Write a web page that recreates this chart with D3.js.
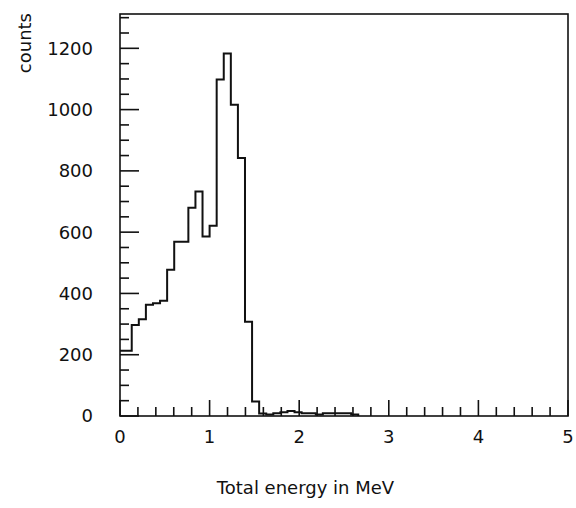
<!DOCTYPE html>
<html>
<head>
<meta charset="utf-8">
<script src="https://cdn.jsdelivr.net/npm/d3@7"></script>
<style>
  body { margin: 0; background: #fff; }
  text { font-family: "DejaVu Sans", sans-serif; fill: #111; }
</style>
</head>
<body>
<div id="vis"></div>
<script>
// histogram data
let firstEdge = -0.027   // lower edge of first bin (MeV)
let binWidth = 0.079
let counts = [213, 213, 297, 316, 363, 368, 376, 477, 569, 569,
              680, 733, 586, 621, 1098, 1183, 1016, 842, 308, 47,
              8, 5, 9, 12, 16, 12, 9, 9, 5, 9, 9, 9, 9, 5]

let xMajor = [0, 1, 2, 3, 4, 5]
let yMajor = [0, 200, 400, 600, 800, 1000, 1200]
let xDomain = [0, 5]
let yDomain = [0, 1312]

let svgWidth = 576
let svgHeight = 508

let margin = {left: 120, right: 8, top: 14, bottom: 92}
let width = svgWidth - margin.left - margin.right
let height = svgHeight - margin.top - margin.bottom

let svg = d3.select('#vis')
    .append('svg')
    .attr('width', svgWidth)
    .attr('height', svgHeight)
    .append('g')
    .attr('transform', `translate(${margin.left},${margin.top})`)

// scales
let xScale = d3.scaleLinear().domain(xDomain).range([0, width])
let yScale = d3.scaleLinear().domain(yDomain).range([height, 0])

svg.append('clipPath')
    .attr('id', 'plot-clip')
    .append('rect')
    .attr('width', width)
    .attr('height', height)

// step points for the histogram outline
let steps = [{x: firstEdge, y: 0}]
counts.forEach((c, i) => {
    steps.push({x: firstEdge + i * binWidth, y: c})
})
steps.push({x: firstEdge + counts.length * binWidth, y: 0})

let line = d3.line()
    .x(d => xScale(d.x))
    .y(d => yScale(d.y))
    .curve(d3.curveStepAfter)

svg.append('path')
    .datum(steps)
    .attr('clip-path', 'url(#plot-clip)')
    .attr('fill', 'none')
    .attr('stroke', '#111')
    .attr('stroke-width', 2)
    .attr('d', line)

// frame
svg.append('rect')
    .attr('width', width)
    .attr('height', height)
    .attr('fill', 'none')
    .attr('stroke', '#111')
    .attr('stroke-width', 1.6)

// y ticks (inside, pointing right)
let yMinor = d3.range(0, 1301, 50)
svg.selectAll('.ytick')
    .data(yMinor)
    .join('line')
    .attr('class', 'ytick')
    .attr('x1', 0)
    .attr('x2', d => d % 200 === 0 ? 19 : 9)
    .attr('y1', d => yScale(d))
    .attr('y2', d => yScale(d))
    .attr('stroke', '#111')
    .attr('stroke-width', 1.6)

svg.selectAll('.ylab')
    .data(yMajor)
    .join('text')
    .attr('class', 'ylab')
    .attr('x', -27)
    .attr('y', d => yScale(d))
    .attr('dy', '0.36em')
    .attr('text-anchor', 'end')
    .attr('font-size', 18)
    .text(d => d)

// x ticks (inside, pointing up)
let xMinor = d3.range(0, 26).map(i => i / 5)
svg.selectAll('.xtick')
    .data(xMinor)
    .join('line')
    .attr('class', 'xtick')
    .attr('x1', d => xScale(d))
    .attr('x2', d => xScale(d))
    .attr('y1', height)
    .attr('y2', (d, i) => height - (i % 5 === 0 ? 16 : 9))
    .attr('stroke', '#111')
    .attr('stroke-width', 1.6)

svg.selectAll('.xlab')
    .data(xMajor)
    .join('text')
    .attr('class', 'xlab')
    .attr('x', d => xScale(d))
    .attr('y', height + 21)
    .attr('dy', '0.36em')
    .attr('text-anchor', 'middle')
    .attr('font-size', 18)
    .text(d => d)

// axis titles
svg.append('text')
    .attr('x', xScale(2.07))
    .attr('y', height + 72)
    .attr('dy', '0.36em')
    .attr('text-anchor', 'middle')
    .attr('font-size', 18)
    .text('Total energy in MeV')

svg.append('text')
    .attr('transform', `translate(${-95},${-1}) rotate(-90)`)
    .attr('text-anchor', 'end')
    .attr('dy', '0.36em')
    .attr('font-size', 18)
    .text('counts')
</script>
</body>
</html>
